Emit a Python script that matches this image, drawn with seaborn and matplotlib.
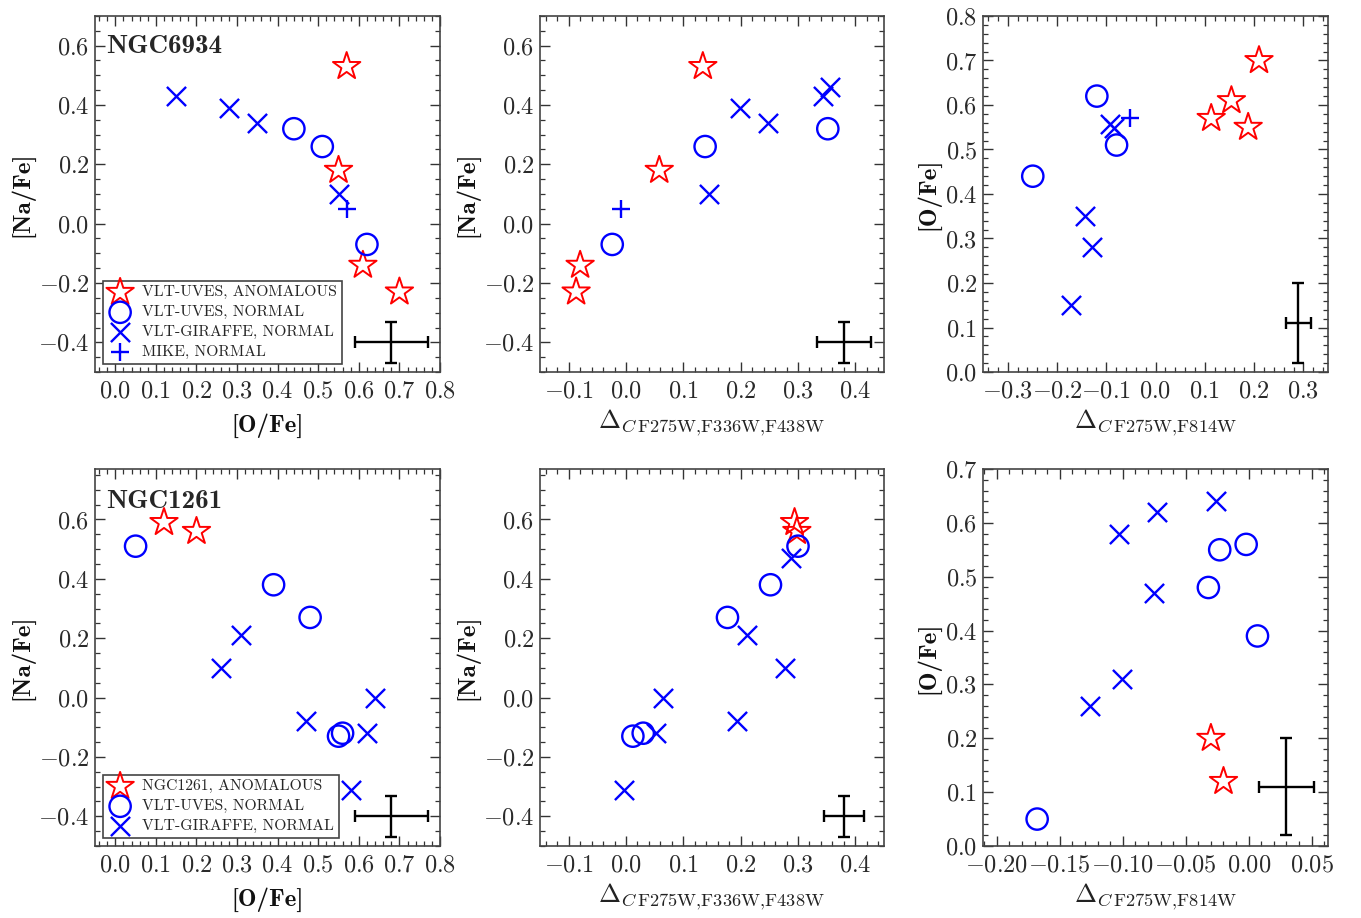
import numpy as np
import pandas as pd
import seaborn as sns
import matplotlib
matplotlib.use("Agg")
import matplotlib.pyplot as plt
from matplotlib.ticker import MultipleLocator, AutoMinorLocator, FormatStrFormatter

# ---------------- data: NGC6934 ----------------
n6934_anom_ofe = [0.57, 0.55, 0.61, 0.70]
n6934_anom_na = [0.53, 0.18, -0.14, -0.23]
n6934_anom_dc3 = [0.134, 0.058, -0.080, -0.087]
n6934_anom_dc2 = [0.113, 0.188, 0.154, 0.210]

n6934_uves_ofe = [0.44, 0.51, 0.62]
n6934_uves_na = [0.32, 0.26, -0.07]
n6934_uves_dc3 = [0.352, 0.138, -0.024]
n6934_uves_dc2 = [-0.249, -0.079, -0.119]

n6934_gir_ofe_a = [0.15, 0.28, 0.35, 0.55]
n6934_gir_na_a = [0.43, 0.39, 0.34, 0.10]
n6934_gir_dc3_b = [0.343, 0.199, 0.247, 0.144, 0.356]
n6934_gir_na_b = [0.43, 0.39, 0.34, 0.10, 0.46]
n6934_gir_dc2_c = [-0.171, -0.129, -0.144, -0.093, -0.085]
n6934_gir_ofe_c = [0.15, 0.28, 0.35, 0.557, 0.548]

n6934_mike_ofe = [0.57]
n6934_mike_na = [0.05]
n6934_mike_dc3 = [-0.008]
n6934_mike_dc2 = [-0.052]

# ---------------- data: NGC1261 ----------------
n1261_anom_ofe = [0.12, 0.20]
n1261_anom_na = [0.59, 0.56]
n1261_anom_dc3 = [0.294, 0.298]
n1261_anom_dc2 = [-0.020, -0.030]

n1261_uves_ofe = [0.05, 0.39, 0.48, 0.55, 0.56]
n1261_uves_na = [0.51, 0.38, 0.27, -0.13, -0.12]
n1261_uves_dc3 = [0.300, 0.252, 0.177, 0.012, 0.030]
n1261_uves_dc2 = [-0.168, 0.007, -0.032, -0.023, -0.002]

n1261_gir_ofe_a = [0.26, 0.31, 0.47, 0.64, 0.62, 0.58]
n1261_gir_na_a = [0.10, 0.21, -0.08, 0.00, -0.12, -0.31]
n1261_gir_dc3_b = [0.278, 0.211, 0.194, 0.064, 0.052, -0.004, 0.287]
n1261_gir_na_b = [0.10, 0.21, -0.08, 0.00, -0.12, -0.31, 0.47]
n1261_gir_dc2_c = [-0.126, -0.101, -0.075, -0.103, -0.073, -0.026]
n1261_gir_ofe_c = [0.26, 0.31, 0.47, 0.58, 0.62, 0.64]

# typical error bars: (x, y, xerr, yerr) per panel
err_x = [0.68, 0.38, 0.29, 0.68, 0.38, 0.03]
err_y = [-0.40, -0.40, 0.11, -0.40, -0.40, 0.11]
err_dx = [0.09, 0.047, 0.025, 0.09, 0.035, 0.022]
err_dy = [0.07, 0.07, 0.09, 0.07, 0.07, 0.09]

labels_6934 = ["VLT-UVES, ANOMALOUS", "VLT-UVES, NORMAL", "VLT-GIRAFFE, NORMAL", "MIKE, NORMAL"]
labels_1261 = ["NGC1261, ANOMALOUS", "VLT-UVES, NORMAL", "VLT-GIRAFFE, NORMAL"]

# ---------------- style ----------------
sns.set_style("ticks")
plt.rcParams["font.family"] = ["cmr10", "DejaVu Serif"]
plt.rcParams["mathtext.fontset"] = "cm"
plt.rcParams["axes.formatter.use_mathtext"] = True
plt.rcParams["axes.unicode_minus"] = True

fig = plt.figure(figsize=(13.61, 9.18), dpi=100)
W, H = 1361.0, 918.0
cols = [(95, 440), (540, 884), (983, 1328)]
rows = [(16, 372), (469, 846)]
axes = []
for (t, b) in rows:
    rowax = []
    for (l, r) in cols:
        rowax.append(fig.add_axes([l / W, 1 - b / H, (r - l) / W, (b - t) / H]))
    axes.append(rowax)

RED = "#ff0000"
BLUE = "#0000ff"
S_STAR, S_CIRC, S_X, S_PLUS = 430, 235, 190, 160


def draw(ax, x, y, kind, label=None):
    df = pd.DataFrame({"x": x, "y": y})
    if kind == "star":
        sns.scatterplot(data=df, x="x", y="y", ax=ax, marker="*", s=S_STAR,
                        color=RED, facecolor="none", edgecolor=RED,
                        linewidth=1.4, label=label, zorder=3)
    elif kind == "circ":
        sns.scatterplot(data=df, x="x", y="y", ax=ax, marker="o", s=S_CIRC,
                        color=BLUE, facecolor="none", edgecolor=BLUE,
                        linewidth=1.7, label=label, zorder=3)
    elif kind == "x":
        sns.scatterplot(data=df, x="x", y="y", ax=ax, marker="x", s=S_X,
                        color=BLUE, linewidth=1.7, label=label, zorder=3)
    else:
        sns.scatterplot(data=df, x="x", y="y", ax=ax, marker="+", s=S_PLUS,
                        color=BLUE, linewidth=1.7, label=label, zorder=3)


# NGC6934 row
ax = axes[0][0]
draw(ax, n6934_anom_ofe, n6934_anom_na, "star", labels_6934[0])
draw(ax, n6934_uves_ofe, n6934_uves_na, "circ", labels_6934[1])
draw(ax, n6934_gir_ofe_a, n6934_gir_na_a, "x", labels_6934[2])
draw(ax, n6934_mike_ofe, n6934_mike_na, "plus", labels_6934[3])

ax = axes[0][1]
draw(ax, n6934_anom_dc3, n6934_anom_na, "star")
draw(ax, n6934_uves_dc3, n6934_uves_na, "circ")
draw(ax, n6934_gir_dc3_b, n6934_gir_na_b, "x")
draw(ax, n6934_mike_dc3, n6934_mike_na, "plus")

ax = axes[0][2]
draw(ax, n6934_anom_dc2, n6934_anom_ofe, "star")
draw(ax, n6934_uves_dc2, n6934_uves_ofe, "circ")
draw(ax, n6934_gir_dc2_c, n6934_gir_ofe_c, "x")
draw(ax, n6934_mike_dc2, n6934_mike_ofe, "plus")

# NGC1261 row
ax = axes[1][0]
draw(ax, n1261_anom_ofe, n1261_anom_na, "star", labels_1261[0])
draw(ax, n1261_uves_ofe, n1261_uves_na, "circ", labels_1261[1])
draw(ax, n1261_gir_ofe_a, n1261_gir_na_a, "x", labels_1261[2])

ax = axes[1][1]
draw(ax, n1261_anom_dc3, n1261_anom_na, "star")
draw(ax, n1261_uves_dc3, n1261_uves_na, "circ")
draw(ax, n1261_gir_dc3_b, n1261_gir_na_b, "x")

ax = axes[1][2]
draw(ax, n1261_anom_dc2, n1261_anom_ofe, "star")
draw(ax, n1261_uves_dc2, n1261_uves_ofe, "circ")
draw(ax, n1261_gir_dc2_c, n1261_gir_ofe_c, "x")

# error bars
flat = [axes[0][0], axes[0][1], axes[0][2], axes[1][0], axes[1][1], axes[1][2]]
for i, ax in enumerate(flat):
    ax.errorbar([err_x[i]], [err_y[i]], xerr=[err_dx[i]], yerr=[err_dy[i]],
                fmt="none", ecolor="black", elinewidth=1.7, capsize=4.5,
                capthick=1.7, zorder=4)

# limits / ticks
limits = [
    ((-0.05, 0.8), (-0.5, 0.7), 0.1, 0.2, 5, 4),
    ((-0.15, 0.45), (-0.5, 0.7), 0.1, 0.2, 5, 4),
    ((-0.35, 0.35), (0.0, 0.8), 0.1, 0.1, 5, 5),
    ((-0.05, 0.8), (-0.5, 0.77), 0.1, 0.2, 5, 4),
    ((-0.15, 0.45), (-0.5, 0.77), 0.1, 0.2, 5, 4),
    ((-0.211, 0.063), (0.0, 0.7), 0.05, 0.1, 5, 5),
]
dc3_label = r"$\Delta_{C\,\mathrm{F275W{,}F336W{,}F438W}}$"
dc2_label = r"$\Delta_{C\,\mathrm{F275W{,}F814W}}$"
xlabels = ["[O/Fe]", dc3_label, dc2_label, "[O/Fe]", dc3_label, dc2_label]
ylabels = ["[Na/Fe]", "[Na/Fe]", "[O/Fe]", "[Na/Fe]", "[Na/Fe]", "[O/Fe]"]

for i, ax in enumerate(flat):
    xl, yl, xmaj, ymaj, xmin, ymin = limits[i]
    ax.set_xlim(*xl)
    ax.set_ylim(*yl)
    ax.xaxis.set_major_locator(MultipleLocator(xmaj))
    ax.yaxis.set_major_locator(MultipleLocator(ymaj))
    ax.xaxis.set_minor_locator(AutoMinorLocator(xmin))
    ax.yaxis.set_minor_locator(AutoMinorLocator(ymin))
    ax.tick_params(which="both", direction="in", top=True, right=True,
                   colors="#333333", labelcolor="#2a2a2a", labelsize=17.5)
    ax.tick_params(axis="x", which="major", pad=6)
    ax.tick_params(axis="y", which="major", pad=4)
    ax.tick_params(which="major", length=7, width=1.0)
    ax.tick_params(which="minor", length=3.5, width=0.9)
    for sp in ax.spines.values():
        sp.set_color("#444444")
        sp.set_linewidth(1.2)
    if xlabels[i].startswith("$"):
        ax.set_xlabel(xlabels[i], fontsize=19, labelpad=4, color="#222222")
    else:
        ax.set_xlabel(xlabels[i], fontsize=18, family="cmb10", labelpad=8, color="#111111")
    ax.set_ylabel(ylabels[i], fontsize=18, family="cmb10", labelpad=3, color="#111111")

axes[1][2].xaxis.set_major_formatter(FormatStrFormatter(r"$%.2f$"))
for ax in flat[:5]:
    ax.xaxis.set_major_formatter(FormatStrFormatter(r"$%.1f$"))
for ax in flat:
    ax.yaxis.set_major_formatter(FormatStrFormatter(r"$%.1f$"))

# cluster names
axes[0][0].text(0.033, 0.915, "NGC6934", transform=axes[0][0].transAxes,
                fontsize=19.5, family="cmb10", va="center", ha="left")
axes[1][0].text(0.033, 0.915, "NGC1261", transform=axes[1][0].transAxes,
                fontsize=19.5, family="cmb10", va="center", ha="left")

# legends
for ax in [axes[0][0], axes[1][0]]:
    leg = ax.legend(loc="lower left", fontsize=11.3, frameon=True, fancybox=False,
                    edgecolor="#444444", framealpha=1, labelspacing=0.38,
                    handletextpad=0.6, borderpad=0.3, handlelength=1.6,
                    borderaxespad=0.5)
    leg.get_frame().set_linewidth(1.2)

for ax in axes[0][1:] + axes[1][1:]:
    if ax.get_legend() is not None:
        ax.get_legend().remove()

fig.savefig("out.png", dpi=100)
